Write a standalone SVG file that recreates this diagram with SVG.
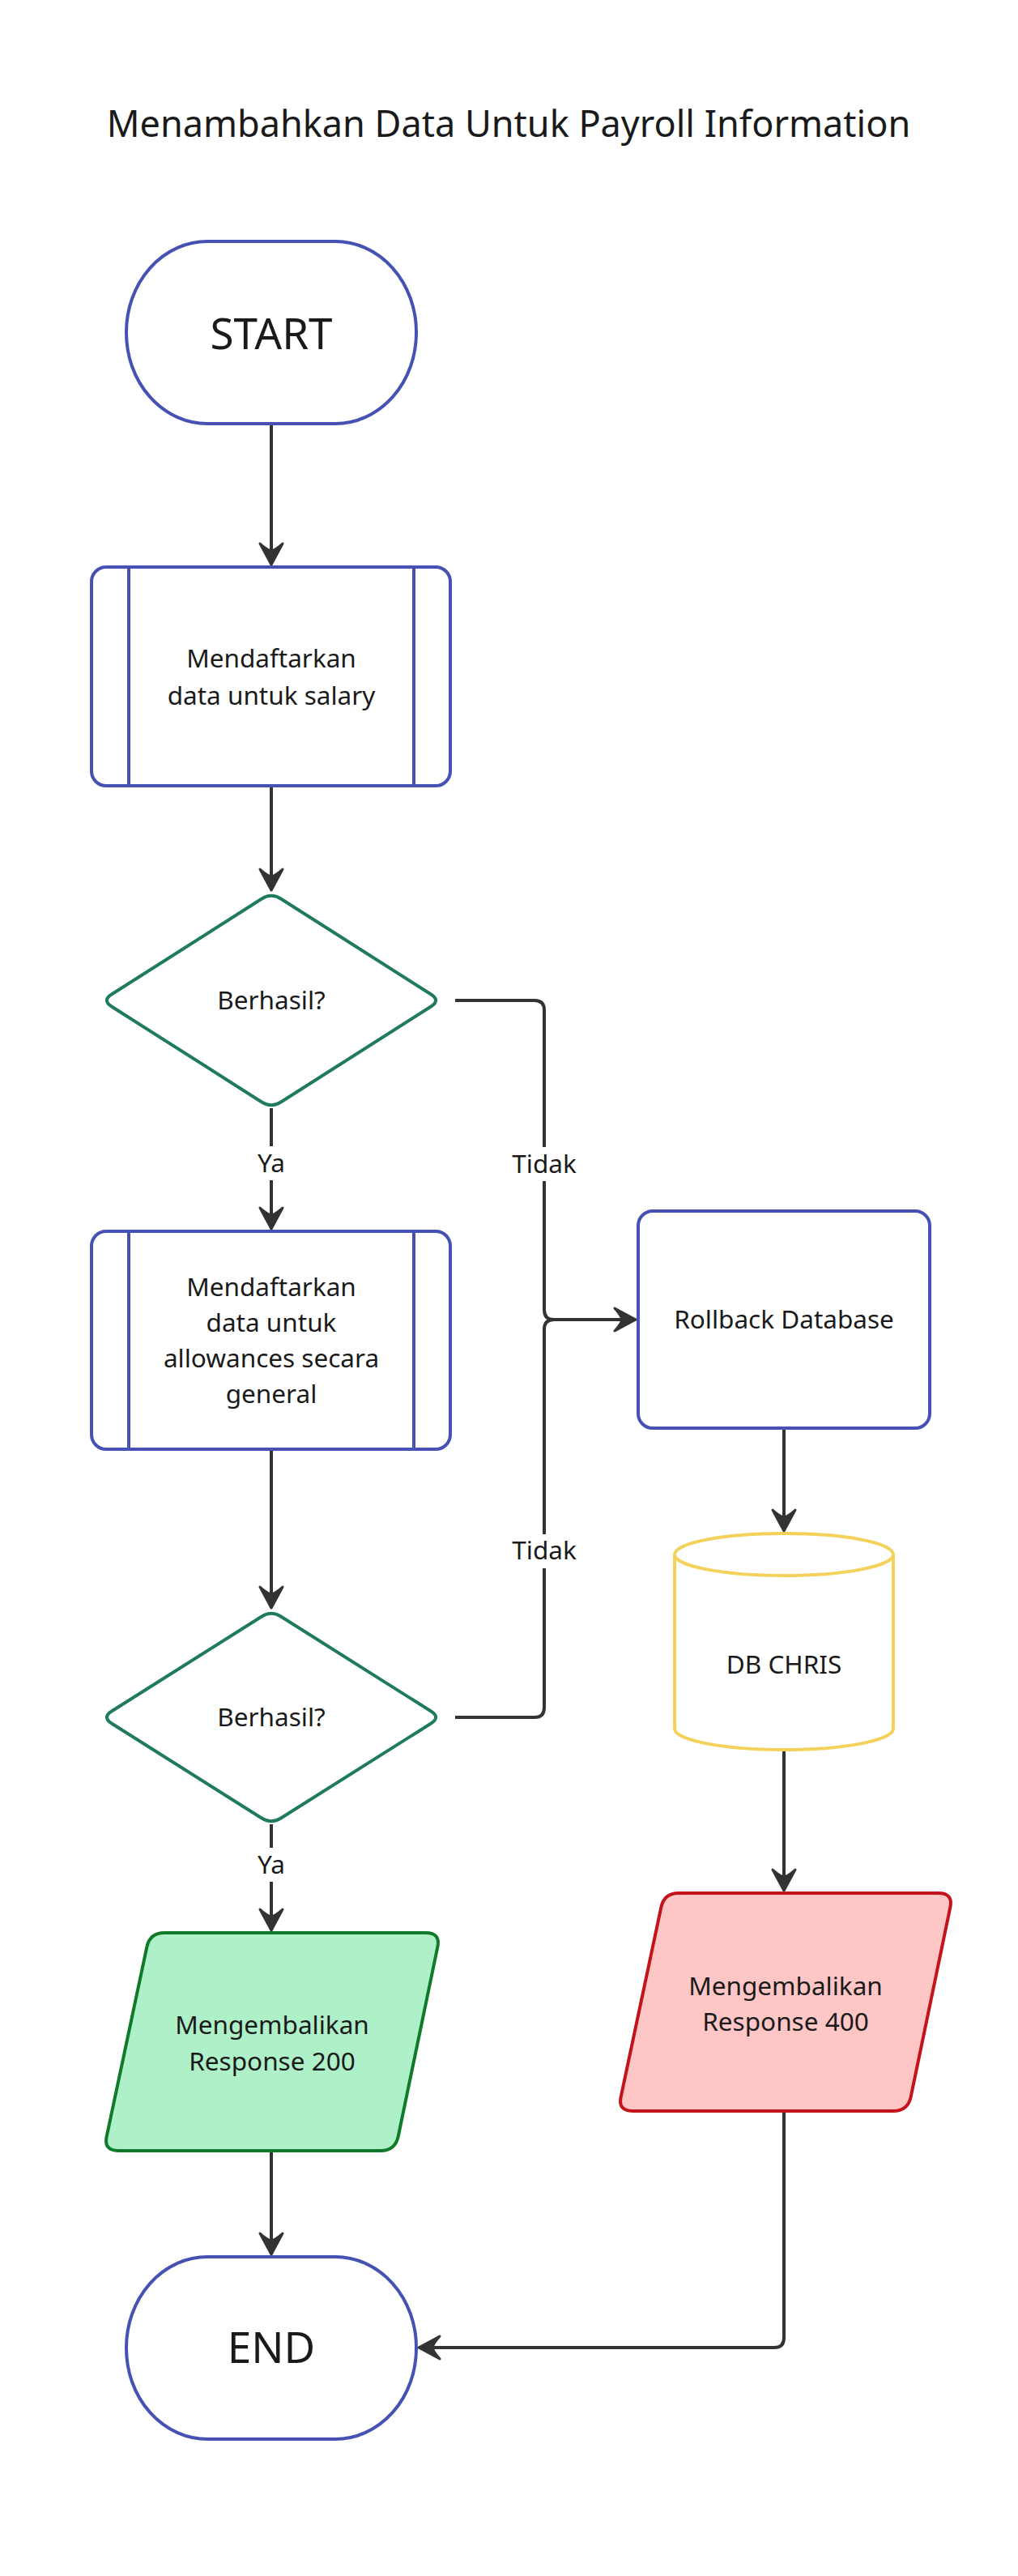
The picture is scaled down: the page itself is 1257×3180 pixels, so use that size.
<svg xmlns="http://www.w3.org/2000/svg" width="1257" height="3180" viewBox="0 0 1257 3180">
<style>
text{font-family:"Noto Sans","Open Sans","DejaVu Sans",sans-serif;fill:#1a1a1a;text-anchor:middle}
.t{font-size:31.5px}
.big{font-size:53px}
.title{font-size:45px}
.blue{fill:#fff;stroke:#4652b3;stroke-width:4}
.dia{fill:#fff;stroke:#1f7a5e;stroke-width:4}
.cyl{fill:#fff;stroke:#f4d15a;stroke-width:4}
.ok{fill:#aef0c8;stroke:#107a2b;stroke-width:4}
.err{fill:#ffc6c6;stroke:#c3131b;stroke-width:4}
.c{fill:none;stroke:#333;stroke-width:4}
.lbg{fill:#fff}
</style>
<defs>
<marker id="ah" viewBox="-32 -20 36 40" refX="0" refY="0" markerWidth="36" markerHeight="40" orient="auto" markerUnits="userSpaceOnUse">
<path d="M0,0 L-26,-14 Q-18,-5 -17,0 Q-18,5 -26,14 Z" fill="#333" stroke="#333" stroke-width="3" stroke-linejoin="round"/>
</marker>
</defs>
<rect width="1257" height="3180" fill="#fff"/>
<text class="title" x="628" y="169">Menambahkan Data Untuk Payroll Information</text>

<g id="connectors">
<path class="c" d="M335,523 L335,697" marker-end="url(#ah)"/>
<path class="c" d="M335,970 L335,1099" marker-end="url(#ah)"/>
<path class="c" d="M335,1368 L335,1517" marker-end="url(#ah)"/>
<path class="c" d="M562,1235 L660,1235 Q672,1235 672,1247 L672,1617 Q672,1629 684,1629 L785,1629" marker-end="url(#ah)"/>
<path class="c" d="M335,1789 L335,1985" marker-end="url(#ah)"/>
<path class="c" d="M562,2120 L660,2120 Q672,2120 672,2108 L672,1641 Q672,1629 684,1629 L785,1629"/>
<path class="c" d="M335,2252 L335,2383" marker-end="url(#ah)"/>
<path class="c" d="M968,1763 L968,1890" marker-end="url(#ah)"/>
<path class="c" d="M968,2160 L968,2334" marker-end="url(#ah)"/>
<path class="c" d="M335,2655 L335,2783" marker-end="url(#ah)"/>
<path class="c" d="M968,2606 L968,2886 Q968,2898 956,2898 L517,2898" marker-end="url(#ah)"/>
<rect class="lbg" x="310" y="1415" width="50" height="42"/>
<text class="t" x="335" y="1447">Ya</text>
<rect class="lbg" x="630" y="1416" width="84" height="42"/>
<text class="t" x="672" y="1448">Tidak</text>
<rect class="lbg" x="630" y="1894" width="84" height="42"/>
<text class="t" x="672" y="1925">Tidak</text>
<rect class="lbg" x="310" y="2281" width="50" height="42"/>
<text class="t" x="335" y="2313">Ya</text>
</g>

<g id="start">
<rect class="blue" x="156" y="298" width="358" height="225" rx="100" ry="112"/>
<text class="big" x="335" y="431">START</text>
</g>

<g id="salary">
<rect class="blue" x="113" y="700" width="443" height="270" rx="18"/>
<line class="blue" x1="159" y1="700" x2="159" y2="970"/>
<line class="blue" x1="511" y1="700" x2="511" y2="970"/>
<text class="t" x="335" y="824">Mendaftarkan</text>
<text class="t" x="335" y="870">data untuk salary</text>
</g>

<g id="check1">
<path class="dia" d="M346.8,1109.5 L532.2,1227.5 Q544,1235 532.2,1242.5 L346.8,1360.5 Q335,1368 323.2,1360.5 L137.8,1242.5 Q126,1235 137.8,1227.5 L323.2,1109.5 Q335,1102 346.8,1109.5 Z"/>
<text class="t" x="335" y="1246">Berhasil?</text>
</g>

<g id="allowances">
<rect class="blue" x="113" y="1520" width="443" height="269" rx="18"/>
<line class="blue" x1="159" y1="1520" x2="159" y2="1789"/>
<line class="blue" x1="511" y1="1520" x2="511" y2="1789"/>
<text class="t" x="335" y="1600">Mendaftarkan</text>
<text class="t" x="335" y="1644">data untuk</text>
<text class="t" x="335" y="1688">allowances secara</text>
<text class="t" x="335" y="1732">general</text>
</g>

<g id="rollback">
<rect class="blue" x="788" y="1495" width="360" height="268" rx="18"/>
<text class="t" x="968" y="1640">Rollback Database</text>
</g>

<g id="check2">
<path class="dia" d="M346.8,1995.5 L532.2,2112.5 Q544,2120 532.2,2127.5 L346.8,2244.5 Q335,2252 323.2,2244.5 L137.8,2127.5 Q126,2120 137.8,2112.5 L323.2,1995.5 Q335,1988 346.8,1995.5 Z"/>
<text class="t" x="335" y="2131">Berhasil?</text>
</g>

<g id="db">
<path class="cyl" d="M833,1919 A135,26 0 0 1 1103,1919 L1103,2134 A135,26 0 0 1 833,2134 Z"/>
<path class="cyl" d="M833,1919 A135,26 0 0 0 1103,1919"/>
<text class="t" x="968" y="2066">DB CHRIS</text>
</g>

<g id="resp200">
<path class="ok" d="M203,2386 L526,2386 Q544,2386 540.3,2403.6 L491.7,2637.4 Q488,2655 470,2655 L146,2655 Q128,2655 131.7,2637.4 L181.3,2403.6 Q185,2386 203,2386 Z"/>
<text class="t" x="336" y="2511">Mengembalikan</text>
<text class="t" x="336" y="2556">Response 200</text>
</g>

<g id="resp400">
<path class="err" d="M838,2337 L1159,2337 Q1177,2337 1173.3,2354.6 L1124.7,2588.4 Q1121,2606 1103,2606 L781,2606 Q763,2606 766.7,2588.4 L816.3,2354.6 Q820,2337 838,2337 Z"/>
<text class="t" x="970" y="2463">Mengembalikan</text>
<text class="t" x="970" y="2507">Response 400</text>
</g>

<g id="end">
<rect class="blue" x="156" y="2786" width="358" height="225" rx="100" ry="112"/>
<text class="big" x="335" y="2917">END</text>
</g>
</svg>
